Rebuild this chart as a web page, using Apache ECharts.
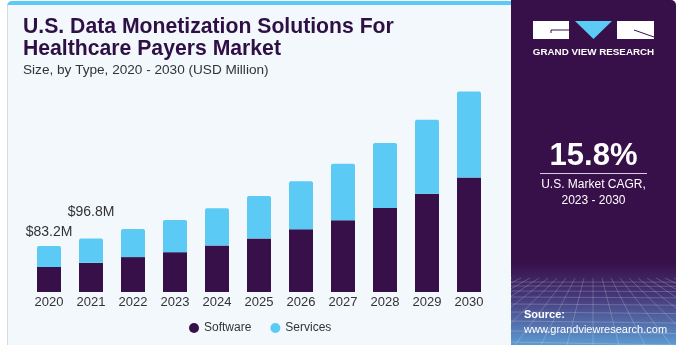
<!DOCTYPE html>
<html><head><meta charset="utf-8">
<script src="https://cdn.jsdelivr.net/npm/echarts@6/dist/echarts.min.js"></script>
<style>html,body{margin:0;padding:0;background:#fff}#c{width:682px;height:345px}</style>
</head><body><div id="c"></div>
<script>
var years = ['2020','2021','2022','2023','2024','2025','2026','2027','2028','2029','2030'];
var software = [45.2, 52.8, 63.1, 72.1, 84.1, 96.8, 113.5, 129.7, 151.9, 177.8, 207.2];
var services = [38.0, 44.0, 50.9, 58.1, 67.2, 76.7, 87.0, 102.1, 117.7, 133.8, 155.4];
var totalLabels = ['$83.2M', '$96.8M'];
var seriesNames = ['Software', 'Services'];
var cagr = '15.8%';

var chart = echarts.init(document.getElementById('c'), null, {renderer: 'canvas'});
var FONT = '"Liberation Sans", Arial, sans-serif';
var labelDist = [7, 19];
var servData = services.map(function (v, i) {
  if (i < totalLabels.length) {
    return {value: v, label: {show: true, position: 'top', distance: labelDist[i], formatter: totalLabels[i],
      fontSize: 14, color: '#333', fontFamily: FONT}};
  }
  return v;
});

// decorative perspective grid in bottom of the right panel
var gridLines = [];
var hy = [282, 286, 291, 297, 304, 312, 321, 331, 342];
hy.forEach(function (y) {
  gridLines.push({type: 'line', shape: {x1: 511, y1: y, x2: 676, y2: y + (y - 280) * 0.05},
    style: {stroke: 'rgba(255,255,255,0.2)', lineWidth: 1}, silent: true});
});
for (var k = -9; k <= 9; k++) {
  gridLines.push({type: 'line', shape: {x1: 593 + k * 9, y1: 278, x2: 593 + k * 26, y2: 345},
    style: {stroke: 'rgba(255,255,255,0.2)', lineWidth: 1}, silent: true});
}

var option = {
  animation: false,
  title: {
    text: 'U.S. Data Monetization Solutions For\nHealthcare Payers Market',
    left: 23, top: 16, padding: 0, itemGap: 2,
    textStyle: {fontFamily: FONT, fontSize: 21.2, fontWeight: 'bold', color: '#2E1045', lineHeight: 22},
    subtext: 'Size, by Type, 2020 - 2030 (USD Million)',
    subtextStyle: {fontFamily: FONT, fontSize: 13.6, color: '#333', lineHeight: 16}
  },
  graphic: {elements: [
    {type: 'rect', z: -10, shape: {x: 7, y: 1, width: 506, height: 344, r: [5, 0, 0, 0]}, style: {fill: '#5BCBF5'}, silent: true},
    {type: 'rect', z: -9, shape: {x: 7, y: 5, width: 506, height: 340}, style: {fill: '#F3F8FC'}, silent: true},
    {type: 'rect', z: -8, shape: {x: 7, y: 5, width: 1, height: 340}, style: {fill: '#D3DAE1'}, silent: true},
    {type: 'rect', z: -7, shape: {x: 511, y: 0, width: 165, height: 345, r: [0, 5, 0, 0]},
      style: {fill: {type: 'linear', x: 0, y: 0, x2: 0, y2: 1, colorStops: [
        {offset: 0, color: '#371049'}, {offset: 0.76, color: '#371049'}, {offset: 0.86, color: '#46387A'}, {offset: 1, color: '#5E9BD2'}]}}, silent: true},
    {type: 'group', z: -6, children: gridLines},
    // logo
    {type: 'rect', shape: {x: 533, y: 21, width: 36, height: 18}, style: {fill: '#fff'}, silent: true},
    {type: 'polyline', shape: {points: [[551, 33], [551, 30], [569, 30]]}, style: {stroke: '#371049', lineWidth: 1, fill: null}, silent: true},
    {type: 'polygon', shape: {points: [[575, 21], [612, 21], [593.5, 39]]}, style: {fill: '#5BCBF5'}, silent: true},
    {type: 'rect', shape: {x: 617, y: 21, width: 37, height: 18}, style: {fill: '#fff'}, silent: true},
    {type: 'line', shape: {x1: 634, y1: 30, x2: 654, y2: 37}, style: {stroke: '#371049', lineWidth: 1}, silent: true},
    {type: 'text', x: 593.5, y: 52, style: {text: 'GRAND VIEW RESEARCH', fill: '#fff', font: 'bold 9.8px ' + FONT, align: 'center', verticalAlign: 'middle'}, silent: true},
    {type: 'text', x: 593.5, y: 156, style: {text: cagr, fill: '#fff', font: 'bold 31px ' + FONT, align: 'center', verticalAlign: 'middle'}, silent: true},
    {type: 'rect', shape: {x: 540, y: 173, width: 107, height: 1}, style: {fill: '#D8CCE0'}, silent: true},
    {type: 'text', x: 593.5, y: 185, style: {text: 'U.S. Market CAGR,', fill: '#fff', font: '12px ' + FONT, align: 'center', verticalAlign: 'middle'}, silent: true},
    {type: 'text', x: 593.5, y: 201, style: {text: '2023 - 2030', fill: '#fff', font: '12px ' + FONT, align: 'center', verticalAlign: 'middle'}, silent: true},
    {type: 'text', x: 524, y: 315, style: {text: 'Source:', fill: '#fff', font: 'bold 11px ' + FONT, align: 'left', verticalAlign: 'middle'}, silent: true},
    {type: 'text', x: 524, y: 330, style: {text: 'www.grandviewresearch.com', fill: '#fff', font: '11px ' + FONT, align: 'left', verticalAlign: 'middle'}, silent: true}
  ]},
  legend: {
    data: seriesNames, left: 184, top: 317, icon: 'circle', itemWidth: 10, itemHeight: 10, itemGap: 19,
    textStyle: {fontFamily: FONT, fontSize: 12, color: '#333'}
  },
  grid: {left: 28, right: 192, top: 72, bottom: 53, containLabel: false},
  xAxis: {
    type: 'category', data: years,
    axisLine: {show: false}, axisTick: {show: false},
    axisLabel: {fontFamily: FONT, fontSize: 13, color: '#333', margin: 4}
  },
  yAxis: {type: 'value', min: 0, max: 398, show: false, splitLine: {show: false}},
  series: [
    {name: seriesNames[0], type: 'bar', stack: 'total', data: software, barWidth: 24,
      itemStyle: {color: '#371049'}},
    {name: seriesNames[1], type: 'bar', stack: 'total', data: servData, barWidth: 24,
      itemStyle: {color: '#5BCBF5', borderRadius: [2, 2, 0, 0]}}
  ]
};
chart.setOption(option);
</script></body></html>
